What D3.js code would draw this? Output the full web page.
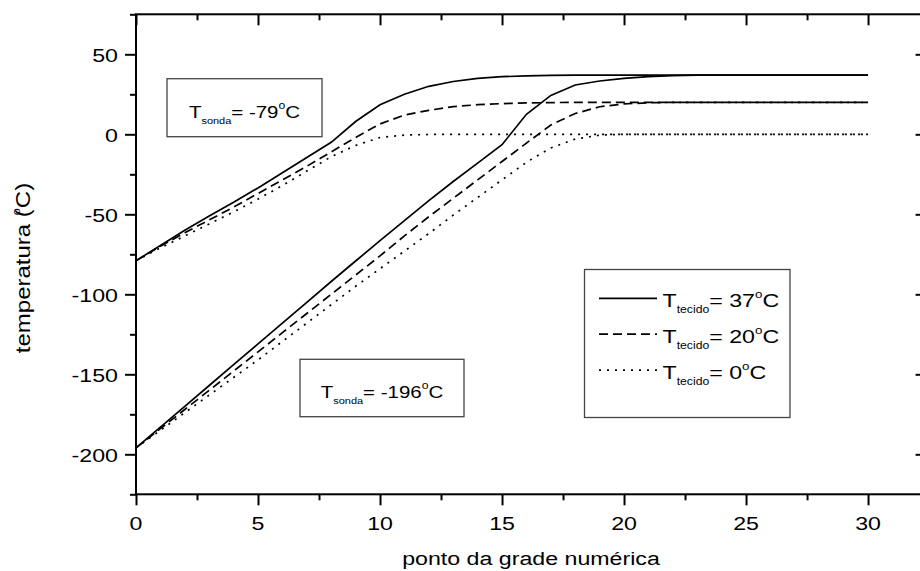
<!DOCTYPE html>
<html>
<head>
<meta charset="utf-8">
<script src="https://cdn.jsdelivr.net/npm/d3@7"></script>
<style>
body { margin: 0; background: #fff; }
svg { display: block; font-family: "Liberation Sans", Arial, sans-serif; }
</style>
</head>
<body>
<svg id="chart" width="920" height="571"></svg>
<script>
// grid points (x) and temperatures
var pontos = [0,1,2,3,4,5,6,7,8,9,10,11,12,13,14,15,16,17,18,19,20,21,22,23,24,25,26,27,28,29,30];

// probe at -79 C
var s79_t37 = [-79,-69.5,-60,-51,-42.5,-33.5,-24,-14.5,-5,8,18.5,25,30,33,35,36,36.5,36.8,37,37,37,37,37,37,37,37,37,37,37,37,37];
var s79_t20 = [-79,-70,-61.5,-53.5,-45.5,-37,-28.5,-20,-11,-2,6.5,12,15,17.3,18.5,19.2,19.6,19.8,20,20,20,20,20,20,20,20,20,20,20,20,20];
var s79_t0  = [-79,-71,-63.5,-56,-48.5,-40.5,-32,-23,-14,-7,-2,-0.5,-0.1,0,0,0,0,0,0,0,0,0,0,0,0,0,0,0,0,0,0];

// probe at -196 C
var s196_t37 = [-196,-183,-170,-157,-144,-131,-118,-105,-92,-79.2,-66.5,-54,-41.5,-29.5,-18,-6.5,12.5,24.3,30.8,33.3,34.9,36,36.7,37,37,37,37,37,37,37,37];
var s196_t20 = [-196,-184,-172,-160,-148,-136,-124,-112,-100,-88,-76,-63.5,-51.5,-40,-28.5,-17,-5.5,5.8,13,17.2,19,19.7,20,20,20,20,20,20,20,20,20];
var s196_t0  = [-196,-185,-174,-163,-152,-141,-129.5,-118,-106.5,-95,-84,-73,-62,-50.5,-39.5,-28.5,-17.5,-8.5,-3,-0.5,0,0,0,0,0,0,0,0,0,0,0];

var xMajor = [0,5,10,15,20,25,30];
var xMinor = [2.5,7.5,12.5,17.5,22.5,27.5];
var yMajor = [50,0,-50,-100,-150,-200];
var yMinor = [75,25,-25,-75,-125,-175,-225];

var legendTemps = ["37","20","0"];
var sondaTemps = ["-79","-196"];

var SX = 1.22; // the original figure is stretched sideways

var svg = d3.select("#chart");

var x = d3.scaleLinear().domain([0, 32.4]).range([136, 926.6]);
var y = d3.scaleLinear().domain([-225, 75]).range([494.3, 14.3]);

//ticks
function ticks(gen, tx, ty) {
	var g = svg.append("g").attr("transform", "translate(" + tx + "," + ty + ")").call(gen);
	g.select(".domain").remove();
	g.selectAll("text").remove();
	g.selectAll("line").attr("stroke", "#000").attr("stroke-width", 2);
}
ticks(d3.axisLeft(y).tickValues(yMajor).tickSize(11), x(0), 0);
ticks(d3.axisLeft(y).tickValues(yMinor).tickSize(6), x(0), 0);
ticks(d3.axisRight(y).tickValues(yMajor).tickSize(-11), x(32.4), 0);
ticks(d3.axisRight(y).tickValues(yMinor).tickSize(-6), x(32.4), 0);
ticks(d3.axisBottom(x).tickValues(xMajor).tickSize(11), 0, y(-225));
ticks(d3.axisBottom(x).tickValues(xMinor).tickSize(6), 0, y(-225));
ticks(d3.axisTop(x).tickValues(xMajor).tickSize(-11), 0, y(75));
ticks(d3.axisTop(x).tickValues(xMinor).tickSize(-6), 0, y(75));

//frame
svg.append("rect")
	.attr("x", x(0)).attr("y", y(75))
	.attr("width", x(32.4) - x(0)).attr("height", y(-225) - y(75))
	.attr("fill", "none").attr("stroke", "#000").attr("stroke-width", 2);

//stretched text helper
function label(px, py, anchor, size) {
	return svg.append("text")
		.attr("transform", "translate(" + px + "," + py + ") scale(" + SX + ",1)")
		.attr("text-anchor", anchor)
		.attr("font-size", size)
		.attr("fill", "#000");
}

xMajor.forEach(function(d) { label(x(d), 530, "middle", 19).text(d); });
yMajor.forEach(function(d) { label(118, y(d) + 7.5, "end", 19).text(d); });

label(531, 565, "middle", 19).text("ponto da grade numérica");

var yt = svg.append("text")
	.attr("transform", "translate(29.5,268) scale(1,1.2) rotate(-90)")
	.attr("text-anchor", "middle")
	.attr("font-size", 20);
yt.append("tspan").text("temperatura (");
yt.append("tspan").attr("font-size", 10.5).attr("dy", -9.5).attr("dx", -5).text("o");
yt.append("tspan").attr("dy", 9.5).text("C)");

//curves
var line = d3.line()
	.x(function(d, i) { return x(pontos[i]); })
	.y(function(d) { return y(d); });

var styles = [null, "9,5", "2,6"];
var series = [s79_t37, s79_t20, s79_t0, s196_t37, s196_t20, s196_t0];

svg.selectAll("path.curve")
	.data(series)
	.enter().append("path")
	.attr("class", "curve")
	.attr("d", line)
	.attr("fill", "none")
	.attr("stroke", "#000")
	.attr("stroke-width", 1.7)
	.attr("stroke-dasharray", function(d, i) { return styles[i % 3]; });

//T with sub and superscript
function tempText(t, sub, val, subSize, supSize) {
	t.append("tspan").text("T");
	t.append("tspan").attr("font-size", subSize).attr("dy", 6).text(sub);
	t.append("tspan").attr("dy", -6).text("= " + val);
	t.append("tspan").attr("font-size", supSize).attr("dy", -9).text("o");
	t.append("tspan").attr("dy", 9).text("C");
}

//probe boxes
var boxes = [{x: 167, y: 78.7, w: 155, h: 58}, {x: 300, y: 359.3, w: 164, h: 57.4}];
boxes.forEach(function(b, i) {
	svg.append("rect")
		.attr("x", b.x).attr("y", b.y).attr("width", b.w).attr("height", b.h)
		.attr("fill", "#fff").attr("stroke", "#444").attr("stroke-width", 1.3);
	tempText(label(b.x + b.w / 2, b.y + 39, "middle", 16.8), "sonda", sondaTemps[i], 9, 10);
});

//legend
svg.append("rect")
	.attr("x", 584.5).attr("y", 269.5).attr("width", 205.5).attr("height", 148)
	.attr("fill", "#fff").attr("stroke", "#444").attr("stroke-width", 1.3);

legendTemps.forEach(function(v, i) {
	var ly = 298.3 + i * 35.9;
	svg.append("line")
		.attr("x1", 599).attr("x2", 657).attr("y1", ly).attr("y2", ly)
		.attr("stroke", "#000").attr("stroke-width", 1.7)
		.attr("stroke-dasharray", styles[i]);
	tempText(label(662.5, ly + 8.5, "start", 19), "tecido", v, 10, 11);
});
</script>
</body>
</html>
